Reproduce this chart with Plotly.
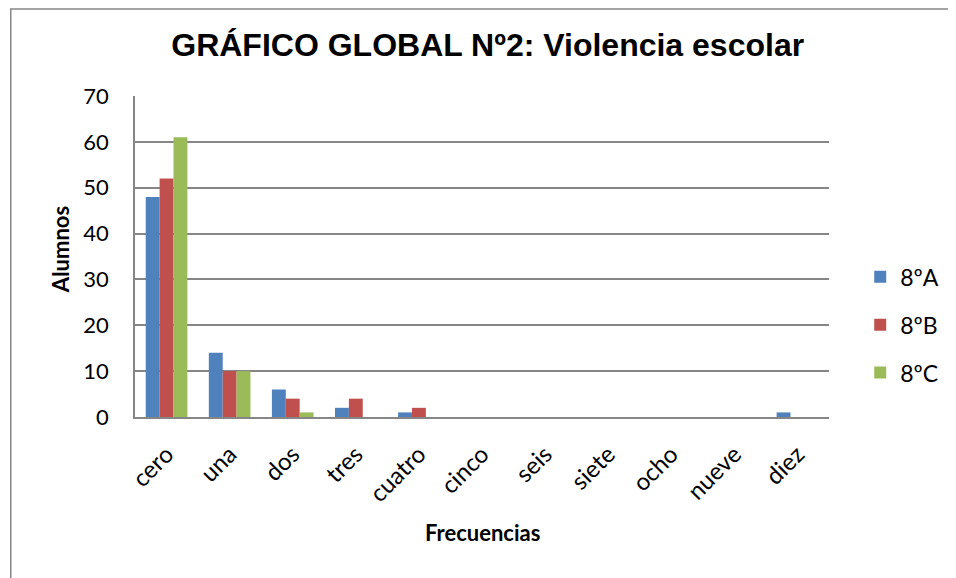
import plotly.graph_objects as go

categorias = ['cero', 'una', 'dos', 'tres', 'cuatro', 'cinco', 'seis', 'siete', 'ocho', 'nueve', 'diez']
curso_8a = [48, 14, 6, 2, 1, 0, 0, 0, 0, 0, 1]
curso_8b = [52, 10, 4, 4, 2, 0, 0, 0, 0, 0, 0]
curso_8c = [61, 10, 1, 0, 0, 0, 0, 0, 0, 0, 0]

series = [('8ºA', curso_8a, '#4F81BD'),
          ('8ºB', curso_8b, '#C0504D'),
          ('8ºC', curso_8c, '#9BBB59')]

fig = go.Figure()
for nombre, valores, color in series:
    fig.add_trace(go.Bar(x=categorias, y=valores, name=nombre,
                         legendgroup=nombre,
                         marker=dict(color=color, line=dict(width=0))))

# la página tiene 8px de margen en el body, por eso 948x570
fig.update_layout(
    width=948, height=570,
    margin=dict(l=127, r=118, t=88, b=161),
    paper_bgcolor='white', plot_bgcolor='white',
    barmode='group', bargap=0.34, bargroupgap=0,
    title=dict(text='<b>GRÁFICO GLOBAL Nº2: Violencia escolar</b>',
               font=dict(family='Liberation Sans', size=32, color='black'),
               x=0.506, xanchor='center', y=0.935, yanchor='middle'),
    font=dict(family='Lato', color='black'),
    legend=dict(x=1.045, y=0.287, xanchor='left', yanchor='middle',
                traceorder='grouped', tracegroupgap=15,
                font=dict(family='Lato', size=23)),
    showlegend=True,
)

fig.update_xaxes(
    tickangle=-45, tickfont=dict(family='Lato', size=24),
    ticks='outside', ticklen=12, tickcolor='rgba(0,0,0,0)',
    showline=True, linecolor='#868686', linewidth=1.5,
)
fig.update_yaxes(
    range=[0, 70], dtick=10,
    tickfont=dict(family='Lato', size=22),
    showgrid=True, gridcolor='#868686', gridwidth=1.5,
    showline=True, linecolor='#868686', linewidth=1.5,
    ticks='', ticklabelstandoff=20,
    zeroline=False,
)

# títulos de los ejes
fig.add_annotation(text='<b>Alumnos</b>', xref='paper', yref='paper',
                   x=-0.108, y=0.52, xanchor='center', yanchor='middle',
                   textangle=-90, showarrow=False,
                   font=dict(family='Lato', size=22, color='black'))
fig.add_annotation(text='<b>Frecuencias</b>', xref='paper', yref='paper',
                   x=0.5, y=-0.361, xanchor='center', yanchor='middle',
                   showarrow=False,
                   font=dict(family='Lato', size=22, color='black'))

# marco exterior del gráfico
fig.add_shape(type='rect', xref='paper', yref='paper',
              x0=-0.179, x1=1.2, y0=-0.6, y1=1.271,
              line=dict(color='#868686', width=1.5), layer='below')

fig.write_html('out.html')
